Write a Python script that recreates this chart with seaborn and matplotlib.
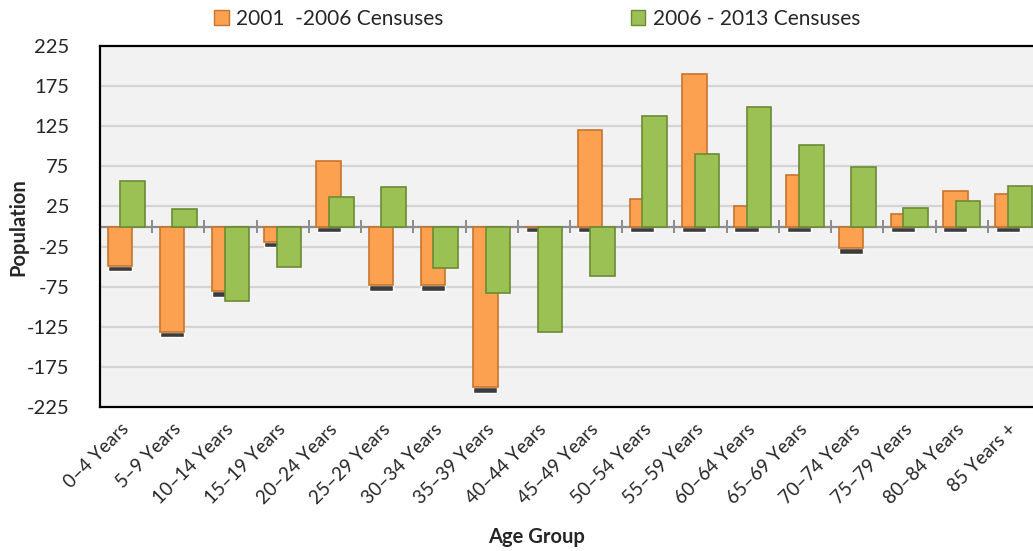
import numpy as np
import pandas as pd
import matplotlib
matplotlib.use("Agg")
import matplotlib.pyplot as plt
from matplotlib.patches import Patch
import seaborn as sns

age_groups = ["0–4 Years", "5–9 Years", "10–14 Years", "15–19 Years", "20–24 Years",
              "25–29 Years", "30–34 Years", "35–39 Years", "40–44 Years", "45–49 Years",
              "50–54 Years", "55–59 Years", "60–64 Years", "65–69 Years", "70–74 Years",
              "75–79 Years", "80–84 Years", "85 Years +"]
change_2001_2006 = [-49, -131, -81, -19, 82, -73, -73, -200, 0, 120,
                    34, 190, 25, 64, -27, 15, 44, 41]
change_2006_2013 = [57, 22, -93, -51, 37, 49, -52, -83, -132, -62,
                    138, 90, 149, 102, 74, 23, 32, 51]
series_names = ["2001  -2006 Censuses", "2006 - 2013 Censuses"]
y_ticks = [225, 175, 125, 75, 25, -25, -75, -125, -175, -225]

orange = "#FBA150"
orange_edge = "#C8742C"
green = "#9BC155"
green_edge = "#6B8B33"

df = pd.DataFrame({
    "Age Group": age_groups * 2,
    "Population": change_2001_2006 + change_2006_2013,
    "Series": [series_names[0]] * len(age_groups) + [series_names[1]] * len(age_groups),
})

sns.set_theme(style="white")
plt.rcParams["font.family"] = ["Lato", "DejaVu Sans"]

fig = plt.figure(figsize=(10.33, 5.51), dpi=100)
ax = fig.add_axes([100 / 1033, 144 / 551, 940 / 1033, 361 / 551])
ax.set_facecolor("#F2F2F2")

n = len(age_groups)
bw = 0.47
off = 0.12

# dark base strips under orange bars (3-D floor)
base_top = [min(v, 0) for v in change_2001_2006]
ax.bar(np.arange(n) - off, [7] * n, bottom=[b - 7 for b in base_top], width=bw * 0.98,
       color="#3C3C3C", zorder=2)

n_before = len(ax.patches)
sns.barplot(data=df, x="Age Group", y="Population", hue="Series", dodge=False,
            width=bw, palette=[orange, green], saturation=1, ax=ax, legend=False,
            zorder=3, linewidth=1.2)

bars = ax.patches[n_before:]
for k, p in enumerate(bars):
    if k < n:
        p.set_x(p.get_x() - off)
        p.set_edgecolor(orange_edge)
    else:
        p.set_x(p.get_x() + off)
        p.set_edgecolor(green_edge)

ax.set_xlim(-0.5, n - 0.5)
ax.set_ylim(-225, 225)
ax.set_yticks(y_ticks)
ax.set_yticklabels([str(t) for t in y_ticks], fontsize=14.5)
for y in [175, 125, 75, 25, -25, -75, -125, -175]:
    ax.axhline(y, color="#D4D4D4", lw=1.6, zorder=1)
ax.axhline(0, color="#8C8C8C", lw=1.6, zorder=2.5)
ax.vlines(np.arange(n) - 0.5, -8, 8, color="#8C8C8C", lw=1.4, zorder=2.5)

ax.tick_params(axis="y", length=0, pad=22)
ax.tick_params(axis="x", length=0, pad=14)
ax.set_xticks(range(n))
ax.set_xticklabels(age_groups, rotation=45, ha="right", va="center",
                   rotation_mode="anchor", fontsize=13.5)
for s in ax.spines.values():
    s.set_color("black")
    s.set_linewidth(1.6)

ax.set_xlabel("")
ax.set_ylabel("")
fig.text(537 / 1033, 1 - 537 / 551, "Age Group", ha="center", va="center",
         fontsize=14.5, fontweight="bold")
fig.text(18 / 1033, 1 - 227 / 551, "Population", ha="center", va="center",
         rotation=90, fontsize=14.5, fontweight="bold")

handles = [Patch(facecolor=orange, edgecolor=orange_edge),
           Patch(facecolor=green, edgecolor=green_edge)]
fig.legend(handles, series_names, loc="center", bbox_to_anchor=(537 / 1033, 1 - 19 / 551),
           ncol=2, frameon=False, fontsize=15, handlelength=0.7, handleheight=0.7,
           handletextpad=0.35, columnspacing=9.0)

fig.savefig("out.png", dpi=100)
